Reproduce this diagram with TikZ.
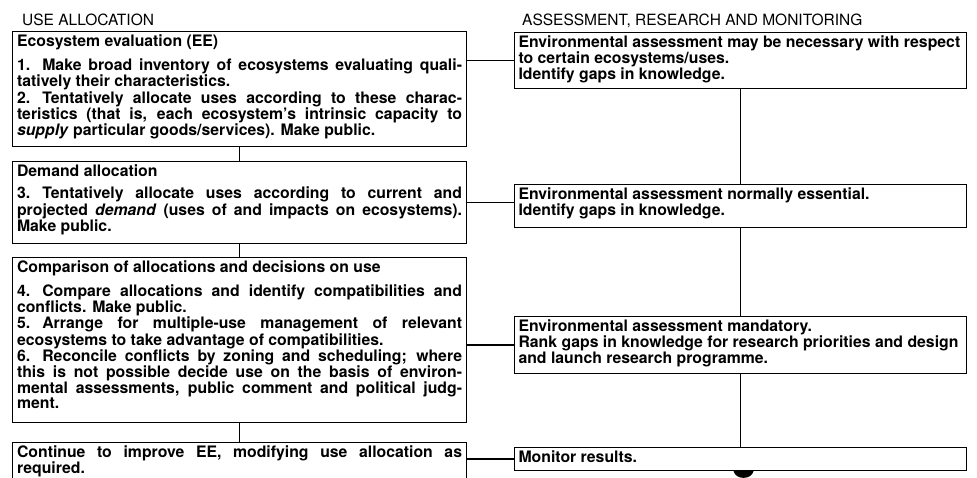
\documentclass[tikz,border=0pt]{standalone}
\usepackage{fontspec}
\setmainfont{TeX Gyre Heros}
\def\leftbody#1#2{\parbox[c][#1pt][t]{445pt}{\tolerance=10000 \hbadness=10000 #2}}
\def\rightbody#1#2{\parbox[c][#1pt][t]{444pt}{\raggedright #2}}
\def\itm#1{\makebox[1.6em][l]{#1}}
\tikzset{
	usebox/.style={draw, line width=1.1pt, anchor=north west, inner xsep=4.5pt, inner ysep=3pt, font=\fontsize{15.8}{14.5}\selectfont\bfseries},
	assessbox/.style={usebox, inner xsep=4pt},
	colhead/.style={anchor=base west, inner sep=0pt, font=\fontsize{15.5}{15}\selectfont},
	link/.style={line width=1.5pt}
}

\begin{document}
\begin{tikzpicture}[x=1pt, y=-1pt]
			%%%%% START %%%%%
			
			\clip (0, 0) rectangle (977, 477);
			
			\node[colhead] (usehead) at (22, 25) {USE ALLOCATION};
			\node[colhead] (assesshead) at (522, 25) {ASSESSMENT, RESEARCH AND MONITORING};
			
			% use allocation
			\node[usebox] (ee) at (12, 31) {\leftbody{109}{Ecosystem evaluation (EE)\\[8pt]
				\itm{1.}Make broad inventory of ecosystems evaluating quali-\linebreak tatively their characteristics.\\
				\itm{2.}Tentatively allocate uses according to these charac-\linebreak teristics (that is, each ecosystem's intrinsic capacity to\linebreak \textit{supply} particular goods/services). Make public.}};
			\node[usebox] (demand) at (12, 161) {\leftbody{76}{Demand allocation\\[8pt]
				\itm{3.}Tentatively allocate uses according to current and\linebreak projected \textit{demand} (uses of and impacts on ecosystems).\linebreak Make public.}};
			\node[usebox] (compare) at (12, 257) {\leftbody{159}{Comparison of allocations and decisions on use\\[8pt]
				\itm{4.}Compare allocations and identify compatibilities and\linebreak conflicts. Make public.\\
				\itm{5.}Arrange for multiple-use management of relevant\linebreak ecosystems to take advantage of compatibilities.\\
				\itm{6.}Reconcile conflicts by zoning and scheduling; where\linebreak this is not possible decide use on the basis of environ-\linebreak mental assessments, public comment and political judg-\linebreak ment.}};
			\node[usebox] (improve) at (12, 442) {\leftbody{44}{Continue to improve EE, modifying use allocation as\linebreak required.}};
			
			% assessment, research and monitoring
			\node[assessbox] (maybe) at (514, 32) {\rightbody{50}{Environmental assessment may be necessary with respect\\ to certain ecosystems/uses.\\ Identify gaps in knowledge.}};
			\node[assessbox] (normally) at (514, 184) {\rightbody{37}{Environmental assessment normally essential.\\ Identify gaps in knowledge.}};
			\node[assessbox] (mandatory) at (514, 316) {\rightbody{51}{Environmental assessment mandatory.\\ Rank gaps in knowledge for research priorities and design\\ and launch research programme.}};
			\node[assessbox] (monitor) at (514, 447) {\rightbody{17}{Monitor results.}};
			
			\draw[link] (ee.south) -- (demand.north);
			\draw[link] (demand.south) -- (compare.north);
			\draw[link] (compare.south) -- (improve.north);
			
			\draw[link] (maybe.south) -- (normally.north);
			\draw[link] (normally.south) -- (mandatory.north);
			\draw[link] (mandatory.south) -- (monitor.north);
			
			\draw[link] (maybe.west -| ee.east) -- (maybe.west);
			\draw[link] (demand.east) -- (demand.east -| normally.west);
			\draw[link] (mandatory.west -| compare.east) -- (mandatory.west);
			\draw[link] (monitor.west -| improve.east) -- (monitor.west);
			
			\fill ([xshift=-7pt]monitor.south) .. controls +(2, 9) and +(-2, 9) .. ([xshift=13pt]monitor.south) -- cycle;
			
			%%%%% END %%%%%
		\end{tikzpicture}
\end{document}
